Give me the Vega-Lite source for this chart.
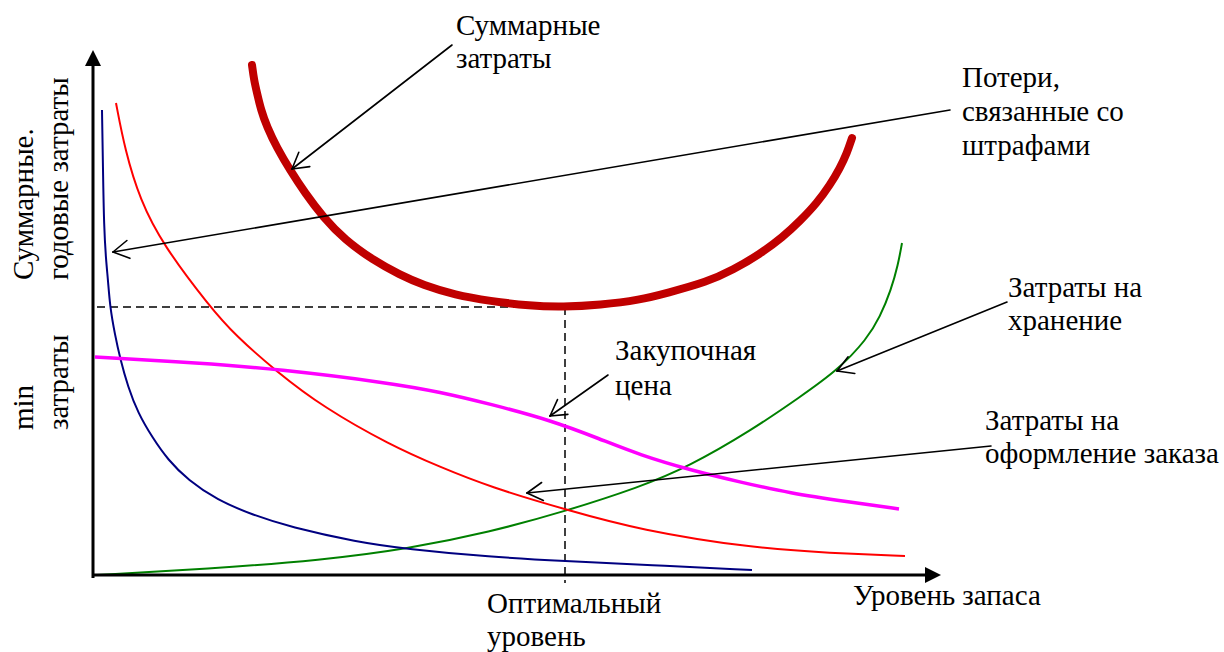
{
  "$schema": "https://vega.github.io/schema/vega-lite/v6.json",
  "width": 1224,
  "height": 652,
  "padding": 0,
  "autosize": {"type": "fit", "contains": "padding"},
  "background": "white",
  "config": {"view": {"stroke": null}, "font": "Liberation Serif", "text": {"font": "Liberation Serif"}},
  "datasets": {
    "curves": [
      {"s": "blue", "x": 9, "y": 465}, {"s": "blue", "x": 10, "y": 405}, {"s": "blue", "x": 11, "y": 348}, {"s": "blue", "x": 13, "y": 315}, {"s": "blue", "x": 15, "y": 295}, {"s": "blue", "x": 17, "y": 268}, {"s": "blue", "x": 22, "y": 240}, {"s": "blue", "x": 27, "y": 217}, {"s": "blue", "x": 35, "y": 188}, {"s": "blue", "x": 45, "y": 162}, {"s": "blue", "x": 59, "y": 138}, {"s": "blue", "x": 75, "y": 115}, {"s": "blue", "x": 95, "y": 95}, {"s": "blue", "x": 124, "y": 75}, {"s": "blue", "x": 160, "y": 60}, {"s": "blue", "x": 197, "y": 48}, {"s": "blue", "x": 264, "y": 33}, {"s": "blue", "x": 314, "y": 26}, {"s": "blue", "x": 397, "y": 18}, {"s": "blue", "x": 470, "y": 14}, {"s": "blue", "x": 557, "y": 10}, {"s": "blue", "x": 659, "y": 5},
      {"s": "red", "x": 23, "y": 472}, {"s": "red", "x": 32, "y": 425}, {"s": "red", "x": 47, "y": 375}, {"s": "red", "x": 70, "y": 330}, {"s": "red", "x": 117, "y": 268}, {"s": "red", "x": 142, "y": 240}, {"s": "red", "x": 184, "y": 203}, {"s": "red", "x": 230, "y": 168}, {"s": "red", "x": 297, "y": 130}, {"s": "red", "x": 347, "y": 108}, {"s": "red", "x": 397, "y": 88}, {"s": "red", "x": 474, "y": 65}, {"s": "red", "x": 547, "y": 45}, {"s": "red", "x": 659, "y": 27}, {"s": "red", "x": 737, "y": 22}, {"s": "red", "x": 812, "y": 19},
      {"s": "magenta", "x": 2, "y": 218}, {"s": "magenta", "x": 107, "y": 212}, {"s": "magenta", "x": 184, "y": 206}, {"s": "magenta", "x": 297, "y": 192}, {"s": "magenta", "x": 347, "y": 183}, {"s": "magenta", "x": 397, "y": 171}, {"s": "magenta", "x": 457, "y": 155}, {"s": "magenta", "x": 507, "y": 136}, {"s": "magenta", "x": 547, "y": 120}, {"s": "magenta", "x": 597, "y": 105}, {"s": "magenta", "x": 647, "y": 93}, {"s": "magenta", "x": 696, "y": 82}, {"s": "magenta", "x": 757, "y": 73}, {"s": "magenta", "x": 806, "y": 66},
      {"s": "green", "x": 4, "y": 0}, {"s": "green", "x": 114, "y": 6}, {"s": "green", "x": 230, "y": 15}, {"s": "green", "x": 314, "y": 26}, {"s": "green", "x": 397, "y": 43}, {"s": "green", "x": 470, "y": 63}, {"s": "green", "x": 547, "y": 88}, {"s": "green", "x": 595, "y": 108}, {"s": "green", "x": 659, "y": 145}, {"s": "green", "x": 707, "y": 178}, {"s": "green", "x": 745, "y": 205}, {"s": "green", "x": 774, "y": 236}, {"s": "green", "x": 787, "y": 258}, {"s": "green", "x": 798, "y": 285}, {"s": "green", "x": 805, "y": 310}, {"s": "green", "x": 809, "y": 332},
      {"s": "total", "x": 159, "y": 510}, {"s": "total", "x": 161, "y": 495}, {"s": "total", "x": 164, "y": 482}, {"s": "total", "x": 168, "y": 465}, {"s": "total", "x": 174, "y": 448}, {"s": "total", "x": 184, "y": 427}, {"s": "total", "x": 197, "y": 405}, {"s": "total", "x": 212, "y": 382}, {"s": "total", "x": 230, "y": 358}, {"s": "total", "x": 252, "y": 335}, {"s": "total", "x": 280, "y": 315}, {"s": "total", "x": 307, "y": 300}, {"s": "total", "x": 330, "y": 290}, {"s": "total", "x": 362, "y": 280}, {"s": "total", "x": 397, "y": 274}, {"s": "total", "x": 437, "y": 269}, {"s": "total", "x": 470, "y": 268}, {"s": "total", "x": 507, "y": 270}, {"s": "total", "x": 547, "y": 275}, {"s": "total", "x": 574, "y": 282}, {"s": "total", "x": 614, "y": 293}, {"s": "total", "x": 640, "y": 305}, {"s": "total", "x": 667, "y": 321}, {"s": "total", "x": 690, "y": 338}, {"s": "total", "x": 707, "y": 354}, {"s": "total", "x": 724, "y": 372}, {"s": "total", "x": 737, "y": 390}, {"s": "total", "x": 747, "y": 407}, {"s": "total", "x": 754, "y": 422}, {"s": "total", "x": 759, "y": 437}
    ],
    "segments": [
      {"k": "axis", "x": 0, "y": -3, "x2": 0, "y2": 512},
      {"k": "axis", "x": 0, "y": 0, "x2": 834, "y2": 0},
      {"k": "dash", "x": 4, "y": 268, "x2": 472, "y2": 268},
      {"k": "dash", "x": 472, "y": 268, "x2": 472, "y2": -8},
      {"k": "arrow", "x": 359, "y": 530, "x2": 199, "y2": 406},
      {"k": "arrow", "x": 199, "y": 406, "x2": 216.8, "y2": 408.4},
      {"k": "arrow", "x": 199, "y": 406, "x2": 205.8, "y2": 422.7},
      {"k": "arrow", "x": 857, "y": 465, "x2": 20, "y2": 323},
      {"k": "arrow", "x": 20, "y": 323, "x2": 36.9, "y2": 316.7},
      {"k": "arrow", "x": 20, "y": 323, "x2": 33.9, "y2": 334.5},
      {"k": "arrow", "x": 515, "y": 200, "x2": 457, "y2": 159},
      {"k": "arrow", "x": 457, "y": 159, "x2": 474.9, "y2": 160.6},
      {"k": "arrow", "x": 457, "y": 159, "x2": 464.5, "y2": 175.4},
      {"k": "arrow", "x": 914, "y": 273, "x2": 744, "y2": 204},
      {"k": "arrow", "x": 744, "y": 204, "x2": 761.8, "y2": 201.5},
      {"k": "arrow", "x": 744, "y": 204, "x2": 755.1, "y2": 218.2},
      {"k": "arrow", "x": 898, "y": 129, "x2": 434, "y2": 82},
      {"k": "arrow", "x": 434, "y": 82, "x2": 450.4, "y2": 74.6},
      {"k": "arrow", "x": 434, "y": 82, "x2": 448.6, "y2": 92.5}
    ],
    "heads": [
      {"dir": "up", "x": 0, "y": 517},
      {"dir": "right", "x": 840, "y": 0}
    ],
    "texts": [
      {"o": "h", "t": "Суммарные", "x": 363, "y": 540},
      {"o": "h", "t": "затраты", "x": 363, "y": 507},
      {"o": "h", "t": "Потери,", "x": 869, "y": 488},
      {"o": "h", "t": "связанные со", "x": 869, "y": 454},
      {"o": "h", "t": "штрафами", "x": 869, "y": 420},
      {"o": "h", "t": "Затраты на", "x": 915, "y": 278},
      {"o": "h", "t": "хранение", "x": 915, "y": 245},
      {"o": "h", "t": "Закупочная", "x": 522, "y": 215},
      {"o": "h", "t": "цена", "x": 522, "y": 180},
      {"o": "h", "t": "Затраты на", "x": 892, "y": 145},
      {"o": "h", "t": "оформление заказа", "x": 892, "y": 112},
      {"o": "h", "t": "Уровень запаса", "x": 760, "y": -30},
      {"o": "h", "t": "Оптимальный", "x": 394, "y": -38},
      {"o": "h", "t": "уровень", "x": 394, "y": -71},
      {"o": "v", "t": "Суммарные.", "x": -60, "y": 295},
      {"o": "v", "t": "годовые затраты", "x": -25, "y": 295},
      {"o": "v", "t": "min", "x": -60, "y": 145},
      {"o": "v", "t": "затраты", "x": -25, "y": 145}
    ]
  },
  "encoding": {
    "x": {"field": "x", "type": "quantitative", "scale": {"domain": [-93, 1131], "nice": false, "zero": false}, "axis": null},
    "y": {"field": "y", "type": "quantitative", "scale": {"domain": [-77, 575], "nice": false, "zero": false}, "axis": null}
  },
  "layer": [
    {
      "data": {"name": "segments"},
      "transform": [{"filter": "datum.k === 'dash'"}],
      "mark": {"type": "rule", "color": "black", "strokeWidth": 1.5, "strokeDash": [8, 5]},
      "encoding": {"x2": {"field": "x2"}, "y2": {"field": "y2"}}
    },
    {
      "data": {"name": "curves"},
      "transform": [{"filter": "datum.s === 'green'"}],
      "mark": {"type": "line", "color": "#008000", "strokeWidth": 2, "interpolate": "basis"},
      "encoding": {}
    },
    {
      "data": {"name": "curves"},
      "transform": [{"filter": "datum.s === 'blue'"}],
      "mark": {"type": "line", "color": "#000080", "strokeWidth": 2, "interpolate": "basis"},
      "encoding": {}
    },
    {
      "data": {"name": "curves"},
      "transform": [{"filter": "datum.s === 'red'"}],
      "mark": {"type": "line", "color": "#ff0000", "strokeWidth": 2, "interpolate": "basis"},
      "encoding": {}
    },
    {
      "data": {"name": "curves"},
      "transform": [{"filter": "datum.s === 'magenta'"}],
      "mark": {"type": "line", "color": "#ff00ff", "strokeWidth": 3.5, "interpolate": "basis"},
      "encoding": {}
    },
    {
      "data": {"name": "curves"},
      "transform": [{"filter": "datum.s === 'total'"}],
      "mark": {"type": "line", "color": "#c00000", "strokeWidth": 8, "strokeCap": "round", "interpolate": "basis"},
      "encoding": {}
    },
    {
      "data": {"name": "segments"},
      "transform": [{"filter": "datum.k === 'axis'"}],
      "mark": {"type": "rule", "color": "black", "strokeWidth": 3},
      "encoding": {"x2": {"field": "x2"}, "y2": {"field": "y2"}}
    },
    {
      "data": {"name": "segments"},
      "transform": [{"filter": "datum.k === 'arrow'"}],
      "mark": {"type": "rule", "color": "black", "strokeWidth": 1.6, "strokeCap": "round"},
      "encoding": {"x2": {"field": "x2"}, "y2": {"field": "y2"}}
    },
    {
      "data": {"name": "heads"},
      "transform": [{"filter": "datum.dir === 'up'"}],
      "mark": {"type": "point", "shape": "M0,-1L1,1L-1,1Z", "size": 256, "filled": true, "color": "black", "opacity": 1}
    },
    {
      "data": {"name": "heads"},
      "transform": [{"filter": "datum.dir === 'right'"}],
      "mark": {"type": "point", "shape": "M1,0L-1,-1L-1,1Z", "size": 256, "filled": true, "color": "black", "opacity": 1}
    },
    {
      "data": {"name": "texts"},
      "transform": [{"filter": "datum.o === 'h'"}],
      "mark": {"type": "text", "align": "left", "baseline": "alphabetic", "font": "Liberation Serif", "fontSize": 29, "color": "black"},
      "encoding": {"text": {"field": "t"}}
    },
    {
      "data": {"name": "texts"},
      "transform": [{"filter": "datum.o === 'v'"}],
      "mark": {"type": "text", "align": "left", "baseline": "alphabetic", "angle": 270, "font": "Liberation Serif", "fontSize": 29, "color": "black"},
      "encoding": {"text": {"field": "t"}}
    }
  ]
}
